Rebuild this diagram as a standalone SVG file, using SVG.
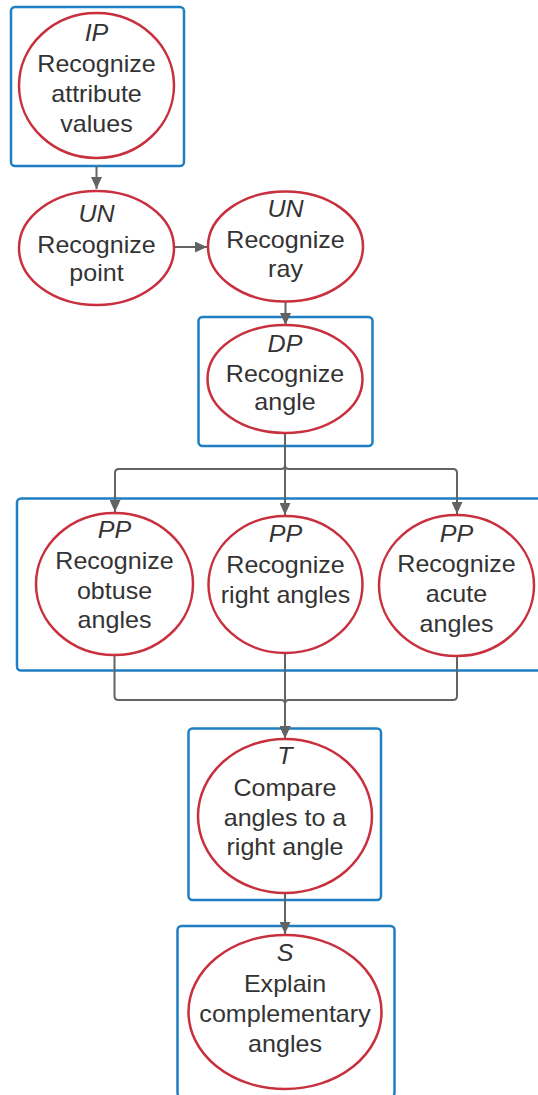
<svg xmlns="http://www.w3.org/2000/svg" width="538" height="1095" viewBox="0 0 538 1095">
  <style>
    .frame { fill: none; stroke: #1f7fc2; stroke-width: 2.5; }
    .bubble { fill: #ffffff; stroke: #c8303e; stroke-width: 2.5; }
    .link { fill: none; stroke: #636363; stroke-width: 2; }
    .t { font-family: "Liberation Sans", Arial, sans-serif; font-size: 23px; fill: #333333; text-anchor: middle; }
    .tag { font-style: italic; }
  </style>
  <defs>
    <marker id="arrow" markerUnits="userSpaceOnUse" markerWidth="12" markerHeight="11" refX="12" refY="5.5" orient="auto">
      <path d="M0,0 L12,5.5 L0,11 z" fill="#636363"/>
    </marker>
  </defs>
  <rect width="538" height="1095" fill="#ffffff"/>

  <!-- frames -->
  <g id="frames">
    <rect class="frame" x="11" y="7" width="173" height="159" rx="4"/>
    <rect class="frame" x="198.5" y="317" width="174" height="129" rx="4"/>
    <rect class="frame" x="17" y="498.5" width="540" height="172" rx="4"/>
    <rect class="frame" x="188.5" y="728.5" width="192.5" height="171.5" rx="4"/>
    <rect class="frame" x="177.5" y="926" width="217" height="171" rx="4"/>
  </g>

  <!-- connectors -->
  <g id="connectors">
    <path class="link" d="M96.5,166 V189" marker-end="url(#arrow)"/>
    <path class="link" d="M174,247 H207" marker-end="url(#arrow)"/>
    <path class="link" d="M285.5,302 V325" marker-end="url(#arrow)"/>
    <path class="link" d="M285,433 V465 Q285,469 281,469 H119 Q115,469 115,473 V512" marker-end="url(#arrow)"/>
    <path class="link" d="M285,433 V515" marker-end="url(#arrow)"/>
    <path class="link" d="M285,433 V465 Q285,469 289,469 H453 Q457,469 457,473 V514" marker-end="url(#arrow)"/>
    <path class="link" d="M114.5,655 V696 Q114.5,700 118.5,700 H281 Q285,700 285,704 V738" marker-end="url(#arrow)"/>
    <path class="link" d="M285,653 V738" marker-end="url(#arrow)"/>
    <path class="link" d="M457,656 V696 Q457,700 453,700 H289 Q285,700 285,704 V738" marker-end="url(#arrow)"/>
    <path class="link" d="M285,893 V934" marker-end="url(#arrow)"/>
  </g>

  <g id="node-ip">
    <ellipse class="bubble" cx="96.5" cy="85.5" rx="77.5" ry="72.5"/>
    <g transform="translate(96.5,0) scale(1.09,1)">
      <text class="t tag" x="0" y="41">IP</text>
      <text class="t" x="0" y="72">Recognize</text>
      <text class="t" x="0" y="102">attribute</text>
      <text class="t" x="0" y="132">values</text>
    </g>
  </g>

  <g id="node-point">
    <ellipse class="bubble" cx="96.5" cy="248" rx="77.5" ry="57"/>
    <g transform="translate(96.5,0) scale(1.09,1)">
      <text class="t tag" x="0" y="222">UN</text>
      <text class="t" x="0" y="253">Recognize</text>
      <text class="t" x="0" y="281">point</text>
    </g>
  </g>

  <g id="node-ray">
    <ellipse class="bubble" cx="285.5" cy="246.5" rx="77.5" ry="55"/>
    <g transform="translate(285.5,0) scale(1.09,1)">
      <text class="t tag" x="0" y="217">UN</text>
      <text class="t" x="0" y="248">Recognize</text>
      <text class="t" x="0" y="277">ray</text>
    </g>
  </g>

  <g id="node-angle">
    <ellipse class="bubble" cx="285" cy="379" rx="77.5" ry="54"/>
    <g transform="translate(285,0) scale(1.09,1)">
      <text class="t tag" x="0" y="352">DP</text>
      <text class="t" x="0" y="382">Recognize</text>
      <text class="t" x="0" y="410">angle</text>
    </g>
  </g>

  <g id="node-obtuse">
    <ellipse class="bubble" cx="114.5" cy="584" rx="78.5" ry="71"/>
    <g transform="translate(114.5,0) scale(1.09,1)">
      <text class="t tag" x="0" y="538">PP</text>
      <text class="t" x="0" y="569">Recognize</text>
      <text class="t" x="0" y="599">obtuse</text>
      <text class="t" x="0" y="628">angles</text>
    </g>
  </g>

  <g id="node-right">
    <ellipse class="bubble" cx="285.5" cy="584.5" rx="77" ry="68.5"/>
    <g transform="translate(285.5,0) scale(1.09,1)">
      <text class="t tag" x="0" y="542">PP</text>
      <text class="t" x="0" y="573">Recognize</text>
      <text class="t" x="0" y="603">right angles</text>
    </g>
  </g>

  <g id="node-acute">
    <ellipse class="bubble" cx="456.5" cy="585.5" rx="77.5" ry="70.5"/>
    <g transform="translate(456.5,0) scale(1.09,1)">
      <text class="t tag" x="0" y="542">PP</text>
      <text class="t" x="0" y="572">Recognize</text>
      <text class="t" x="0" y="602">acute</text>
      <text class="t" x="0" y="632">angles</text>
    </g>
  </g>

  <g id="node-compare">
    <ellipse class="bubble" cx="285" cy="816" rx="87" ry="77"/>
    <g transform="translate(285,0) scale(1.09,1)">
      <text class="t tag" x="0" y="764">T</text>
      <text class="t" x="0" y="796">Compare</text>
      <text class="t" x="0" y="826">angles to a</text>
      <text class="t" x="0" y="855">right angle</text>
    </g>
  </g>

  <g id="node-explain">
    <ellipse class="bubble" cx="285" cy="1012" rx="96.5" ry="77"/>
    <g transform="translate(285,0) scale(1.09,1)">
      <text class="t tag" x="0" y="961">S</text>
      <text class="t" x="0" y="992">Explain</text>
      <text class="t" x="0" y="1022">complementary</text>
      <text class="t" x="0" y="1052">angles</text>
    </g>
  </g>
</svg>
